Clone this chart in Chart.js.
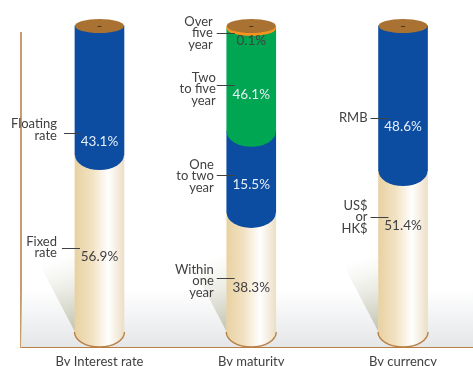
<!DOCTYPE html>
<html>
<head>
<meta charset="utf-8">
<style>
	html, body { margin: 0; padding: 0; background: #fff; overflow: hidden; }
	canvas { display: block; }
</style>
<script src="https://cdn.jsdelivr.net/npm/chart.js@4/dist/chart.umd.min.js"></script>
</head>
<body>
<canvas id="tubes" width="473" height="366"></canvas>
<script>
const categories = ["By Interest rate", "By maturity", "By currency"];

// The printed percentages are not to scale in the original, so the tube
// segments use the lengths (share of tube height).
const creamLengths = [57.8, 38.9, 52.6];
const blueLengths = [42.2, 26.5, 47.4];
const greenLengths = [0, 33.7, 0];
const orangeLengths = [0, 0.9, 0];

const printedPercents = [
	["43.1%", "56.9%"],
	["0.1%", "46.1%", "15.5%", "38.3%"],
	["48.6%", "51.4%"]
];
const calloutNames = [
	[["Floating", "rate"], ["Fixed", "rate"]],
	[["Over", "five", "year"], ["Two", "to five", "year"], ["One", "to two", "year"], ["Within", "one", "year"]],
	[["RMB"], ["US$", "or", "HK$"]]
];

// label placement, heights are in y axis units
const percentSpots = [
	[62.1, 24.5],
	[95.2, 77.5, 48, 14.5],
	[67.1, 34.6]
];
const leaderSpots = [
	[[-11, 65], [-13, 27.5]],
	[[-10, 97.8], [-10, 80.7], [-10, 51.3], [-10, 17.6]],
	[[-8, 70], [-8, 37.6]]
];
const textSpots = [
	[[-18, 66], [-18, 27.6]],
	[[-14, 97.7], [-11, 79.4], [-13, 51], [-13, 16.7]],
	[[-11, 70], [-11, 37.6]]
];

const TEXT_FONT = "13px Lato";
const PERCENT_FONT = "13.5px Lato";
const TEXT_COLOR = "#414042";
const BASE_BULGE = 15;
const TOP_BULGE = 7;

function creamFill(chart, left, width) {
	if (!Number.isFinite(left)) return "#f2e2c2";
	const fill = chart.ctx.createLinearGradient(left, 0, left + width, 0);
	fill.addColorStop(0, "#e8d2a3");
	fill.addColorStop(0.35, "#f2e2c2");
	fill.addColorStop(0.68, "#ffffff");
	fill.addColorStop(1, "#ecdfc6");
	return fill;
}

const tubePlugin = {
	id: "tubes",
	beforeDatasetsDraw(chart) {
		const { ctx, chartArea, scales } = chart;
		const floorTop = scales.y.getPixelForValue(14);
		const floor = ctx.createLinearGradient(0, floorTop, 0, chartArea.bottom);
		floor.addColorStop(0, "rgba(228,230,232,0)");
		floor.addColorStop(1, "#e4e6e8");
		ctx.fillStyle = floor;
		ctx.fillRect(chartArea.left, floorTop, chartArea.right - chartArea.left, chartArea.bottom - floorTop);

		// shadow falling to the left of every tube
		chart.getDatasetMeta(0).data.forEach((bar) => {
			const left = bar.x - bar.width / 2;
			const foot = scales.y.getPixelForValue(0);
			const shade = ctx.createLinearGradient(left, foot, left - 24, foot - 72);
			shade.addColorStop(0, "rgba(188,188,165,0.85)");
			shade.addColorStop(1, "rgba(215,215,200,0)");
			ctx.fillStyle = shade;
			ctx.beginPath();
			ctx.moveTo(left - 36, foot - 69);
			ctx.lineTo(left, foot);
			ctx.lineTo(left, foot - 90);
			ctx.closePath();
			ctx.fill();
		});
	},
	afterDatasetsDraw(chart) {
		const { ctx, scales } = chart;
		// rounded bottom of every coloured segment, lowest first
		chart.data.datasets.forEach((dataset, d) => {
			chart.getDatasetMeta(d).data.forEach((bar, i) => {
				if (!dataset.data[i].y) return;
				const ry = dataset.bulge;
				const left = bar.x - bar.width / 2;
				ctx.beginPath();
				ctx.ellipse(bar.x, bar.base, bar.width / 2, ry, 0, 0, Math.PI);
				// run a little up into the segment so no seam shows
				ctx.lineTo(left, bar.base - 1);
				ctx.lineTo(left + bar.width, bar.base - 1);
				ctx.closePath();
				ctx.fillStyle = d === 0 ? creamFill(chart, left, bar.width) : dataset.backgroundColor;
				ctx.fill();
				if (d === 0) {
					ctx.beginPath();
					ctx.ellipse(bar.x, bar.base, bar.width / 2 + 0.5, ry, 0, 0, Math.PI);
					ctx.strokeStyle = "#b97f43";
					ctx.lineWidth = 1.4;
					ctx.stroke();
				}
			});
		});
		// brown lid with the small dash in its middle
		const lidY = scales.y.getPixelForValue(100);
		chart.getDatasetMeta(0).data.forEach((bar) => {
			ctx.beginPath();
			ctx.ellipse(bar.x, lidY, bar.width / 2, TOP_BULGE, 0, 0, Math.PI * 2);
			ctx.fillStyle = "#a97233";
			ctx.fill();
			ctx.fillStyle = "#4a3520";
			ctx.fillRect(bar.x - 2, lidY, 4, 1);
		});

		chart.getDatasetMeta(0).data.forEach((bar, col) => {
			const left = bar.x - bar.width / 2;
			ctx.textBaseline = "middle";
			// percent labels
			ctx.font = PERCENT_FONT;
			ctx.textAlign = "center";
			printedPercents[col].forEach((text, i) => {
				const dark = (col === 0 && i === 1) || (col === 1 && (i === 0 || i === 3)) || (col === 2 && i === 1);
				ctx.fillStyle = dark ? TEXT_COLOR : "#e6eef8";
				ctx.fillText(text, bar.x, scales.y.getPixelForValue(percentSpots[col][i]));
			});
			// names with their leader lines
			ctx.font = TEXT_FONT;
			ctx.textAlign = "right";
			ctx.fillStyle = TEXT_COLOR;
			calloutNames[col].forEach((lines, i) => {
				const [textX, textV] = textSpots[col][i];
				const middle = scales.y.getPixelForValue(textV);
				lines.forEach((line, n) => {
					ctx.fillText(line, left + textX, middle + (n - (lines.length - 1) / 2) * 11.5);
				});
				const [leadX, leadV] = leaderSpots[col][i];
				const leadY = Math.round(scales.y.getPixelForValue(leadV)) + 0.5;
				ctx.beginPath();
				ctx.moveTo(left + leadX, leadY);
				ctx.lineTo(left + leadX + 18, leadY);
				ctx.strokeStyle = "#414042";
				ctx.lineWidth = 1;
				ctx.stroke();
			});
		});
	}
};

function column(values) {
	return values.map((value, i) => ({ x: i, y: value }));
}

function generateChart() {
	const tubes = document.getElementById("tubes").getContext("2d");
	new Chart(tubes, {
		type: "bar",
		data: {
			datasets: [
				{
					label: "Lower",
					data: column(creamLengths),
					bulge: BASE_BULGE,
					backgroundColor: (c) => {
						const x = c.chart.scales.x.getPixelForValue(c.dataIndex);
						return creamFill(c.chart, x - 24.5, 49);
					}
				},
				{ label: "Blue", data: column(blueLengths), bulge: BASE_BULGE, backgroundColor: "#0d4da1" },
				{ label: "Green", data: column(greenLengths), bulge: BASE_BULGE, backgroundColor: "#00a651" },
				{ label: "Orange", data: column(orangeLengths), bulge: TOP_BULGE, backgroundColor: "#f7941d" }
			]
		},
		options: {
			responsive: false,
			animation: false,
			events: [],
			clip: false,
			barThickness: 49,
			borderWidth: 0,
			layout: { padding: { left: 21, top: 33, right: 0, bottom: 0 } },
			plugins: { legend: { display: false }, title: { display: false }, tooltip: { enabled: false } },
			scales: {
				x: {
					type: "linear",
					stacked: true,
					offset: false,
					min: -0.517,
					max: 2.461,
					grid: { display: false, drawTicks: false },
					border: { color: "#b97f43", width: 2 },
					afterBuildTicks: (scale) => { scale.ticks = categories.map((name, i) => ({ value: i })); },
					afterFit: (scale) => { scale.height = 19; },
					ticks: {
						autoSkip: false,
						maxRotation: 0,
						padding: 7,
						color: TEXT_COLOR,
						font: { family: "Lato", size: 13 },
						callback: (value) => categories[value]
					}
				},
				y: {
					stacked: true,
					min: -4.9,
					max: 97.7,
					grid: { display: false, drawTicks: false },
					border: { color: "#c69c6d", width: 2 },
					ticks: { display: false }
				}
			}
		},
		plugins: [tubePlugin]
	});
}

window.onload = () => {
	generateChart();
};
</script>
</body>
</html>
